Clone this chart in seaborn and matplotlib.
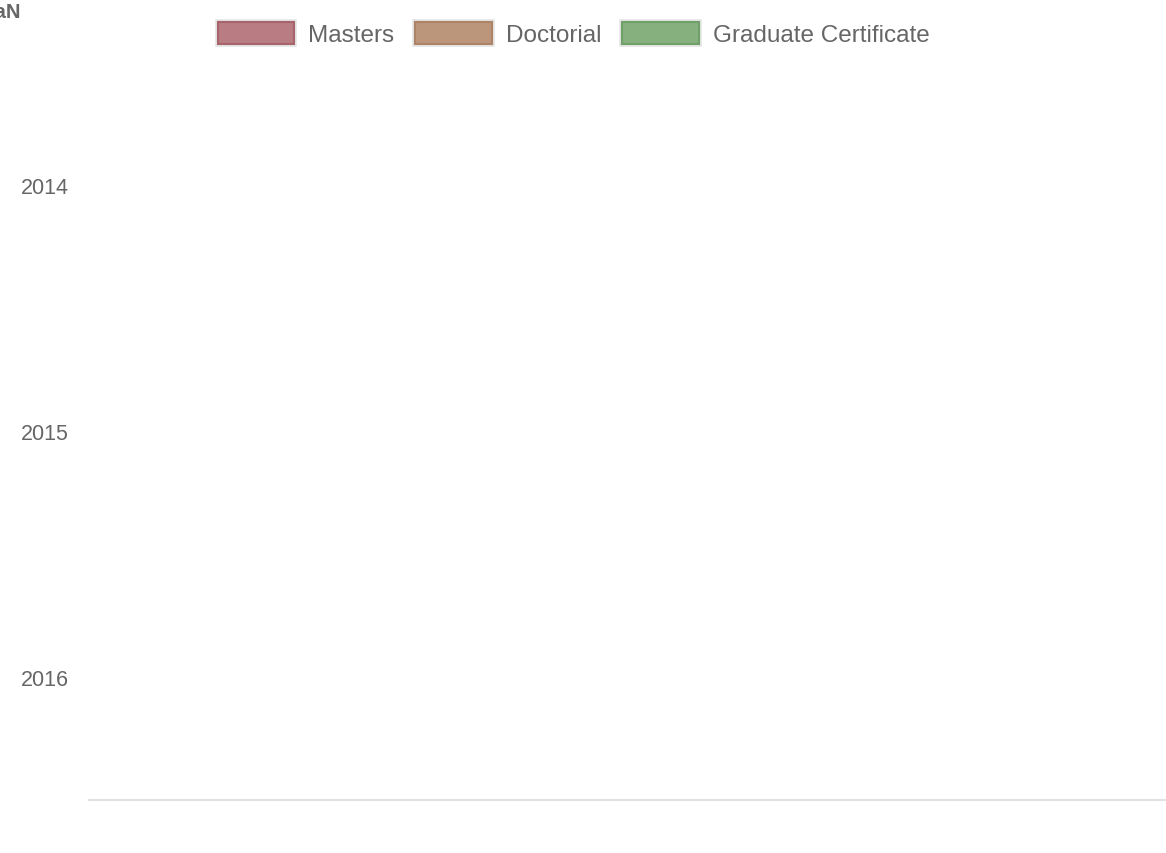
import matplotlib
matplotlib.use("Agg")
import matplotlib.pyplot as plt
from matplotlib.patches import Patch
from matplotlib.legend_handler import HandlerTuple
import seaborn as sns
import numpy as np
import pandas as pd

years = ["2014", "2015", "2016"]
degrees = ["Masters", "Doctorial", "Graduate Certificate"]
masters = [np.nan, np.nan, np.nan]
doctorial = [np.nan, np.nan, np.nan]
grad_cert = [np.nan, np.nan, np.nan]
fills = ["#b97c82", "#bc967a", "#86b07e"]
edges = ["#a8646c", "#ad8468", "#6fa068"]

df = pd.DataFrame({
    "year": years * 3,
    "degree": np.repeat(degrees, len(years)),
    "value": masters + doctorial + grad_cert,
})

sns.set_style("white")
plt.rcParams["font.family"] = ["Liberation Sans", "DejaVu Sans"]

fig = plt.figure(figsize=(11.66, 8.54), dpi=100)
ax = fig.add_axes([89 / 1166, 53 / 854, 1 - 89 / 1166, (801 - 63) / 854])

# all values are missing, so seaborn draws no bars
try:
    sns.barplot(data=df, y="year", x="value", hue="degree", order=years,
                hue_order=degrees, palette=fills, orient="h", ax=ax,
                legend=False, errorbar=None)
except Exception:
    pass

ax.set_ylim(2.5, -0.5)
ax.set_xlim(0, 1)
ax.set_yticks(range(len(years)))
ax.set_yticklabels(years, fontsize=15.5, color="#666666")
ax.set_xticks([])
ax.set_xlabel("")
ax.set_ylabel("")
ax.tick_params(axis="y", length=0, pad=14.5)
for s in ["top", "right", "left"]:
    ax.spines[s].set_visible(False)
ax.spines["bottom"].set_color("#e2e2e2")
ax.spines["bottom"].set_linewidth(1.5)

handles = []
for f, e in zip(fills, edges):
    outer = Patch(facecolor="none", edgecolor="#e4e4e4", linewidth=4)
    inner = Patch(facecolor=f, edgecolor=e, linewidth=1.5)
    handles.append((outer, inner))
fig.legend(handles, degrees, loc="upper center", bbox_to_anchor=(0.492, 1.0),
           ncol=3, frameon=False, fontsize=17.5, labelcolor="#666666",
           handler_map={tuple: HandlerTuple(ndivide=1, pad=0)},
           handlelength=3.15, handleheight=1.0, columnspacing=0.85,
           handletextpad=0.58, borderaxespad=0.55)

fig.text(21 / 1166, 1 - 13 / 854, "NaN", ha="right", va="center",
         fontsize=14.5, color="#666666", fontweight="bold")

fig.savefig("out.png", dpi=100)
